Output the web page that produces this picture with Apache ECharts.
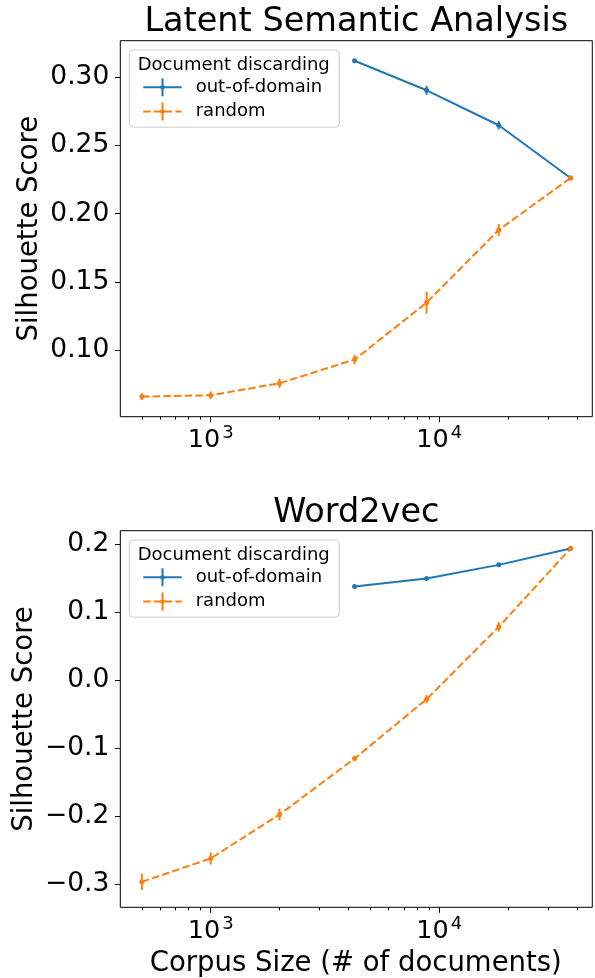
<!DOCTYPE html>
<html><head><meta charset="utf-8">
<script src="https://cdn.jsdelivr.net/npm/echarts@6/dist/echarts.min.js"></script>
<style>html,body{margin:0;padding:0;background:#fff}#c{width:595px;height:978px}</style>
</head><body><div id="c"></div><script>
// ---- data ----
const xRandom = [500, 1000, 2000, 4260, 8800, 18200, 37500];
const xOod = [4260, 8800, 18200, 37500];
const lsaOod = [0.3119, 0.2903, 0.2647, 0.2261];
const lsaOodErr = [0.0005, 0.0033, 0.0030, 0.0005];
const lsaRand = [0.0661, 0.0671, 0.0759, 0.0932, 0.1349, 0.1881, 0.2261];
const lsaRandErr = [0.0024, 0.0028, 0.0034, 0.0034, 0.0080, 0.0043, 0.0008];
const w2vOod = [0.1379, 0.1497, 0.1697, 0.1938];
const w2vOodErr = [0.0015, 0.0015, 0.0015, 0.0015];
const w2vRand = [-0.2968, -0.2624, -0.1977, -0.1153, -0.0280, 0.0785, 0.1938];
const w2vRandErr = [0.0120, 0.0090, 0.0086, 0.0040, 0.0060, 0.0070, 0.0020];
const xMajorTicks = [1000, 10000];
const xMinorTicks = [500, 600, 700, 800, 900, 2000, 3000, 4000, 5000, 6000, 7000, 8000, 9000, 20000, 30000, 40000];
const lsaYTicks = [0.10, 0.15, 0.20, 0.25, 0.30];
const w2vYTicks = [-0.3, -0.2, -0.1, 0.0, 0.1, 0.2];
const seriesNames = ['out-of-domain', 'random'];
const titles = ['Latent Semantic Analysis', 'Word2vec'];
const legendTitle = 'Document discarding';
const yName = 'Silhouette Score';
const xName = 'Corpus Size (# of documents)';

// ---- style ----
const FONT = 'DejaVu Sans';
const BLUE = '#1f77b4', ORANGE = '#ff7f0e';
const X_MIN = 402.5, X_MAX = 46700;
const GRIDS = [
  {left: 120.3, top: 40.7, width: 472, height: 376, ymin: 0.0514, ymax: 0.3266, titleY: 22.5, nameX: 30},
  {left: 120.3, top: 530.7, width: 472, height: 376.6, ymin: -0.3343, ymax: 0.2200, titleY: 513, nameX: 25}
];

const zip2 = (a, b) => a.map((v, i) => [v, b[i]]);
const zip3 = (a, b, c) => a.map((v, i) => [v, b[i], c[i]]);

function errRender(params, api) {
  const x = api.value(0), y = api.value(1), e = api.value(2);
  const p1 = api.coord([x, y - e]);
  const p2 = api.coord([x, y + e]);
  return {type: 'line', shape: {x1: p1[0], y1: p1[1], x2: p2[0], y2: p2[1]},
          style: {stroke: api.visual('color'), lineWidth: 2}};
}

const oodIcon = 'path://M0 8H38.4V10H0Z M18.2 0H20.2V18H18.2Z M21.6 9A2.4 2.4 0 1 1 16.8 9A2.4 2.4 0 1 1 21.6 9Z';
const randIcon = 'path://M0 8H7.5V10H0Z M10.7 8H18.2V10H10.7Z M21.4 8H28.9V10H21.4Z M32.1 8H38.4V10H32.1Z M18.2 0H20.2V18H18.2Z M21.6 9A2.4 2.4 0 1 1 16.8 9A2.4 2.4 0 1 1 21.6 9Z';

const grids = [], xAxes = [], yAxes = [], legends = [], series = [], graphics = [];
const yTicksList = [lsaYTicks, w2vYTicks];
const yFmt = [v => v.toFixed(2), v => (v < -1e-9 ? '\u2212' : '') + Math.abs(v).toFixed(1)];
const dataSets = [
  {ood: lsaOod, oodErr: lsaOodErr, rand: lsaRand, randErr: lsaRandErr},
  {ood: w2vOod, oodErr: w2vOodErr, rand: w2vRand, randErr: w2vRandErr}
];

GRIDS.forEach((g, gi) => {
  grids.push({left: g.left, top: g.top, width: g.width, height: g.height, show: true,
              borderColor: '#000', borderWidth: 1, backgroundColor: 'transparent',
              containLabel: false, outerBoundsMode: 'none'});
  xAxes.push({
    type: 'log', logBase: 10, gridIndex: gi, min: X_MIN, max: X_MAX, position: 'bottom',
    axisLine: {show: false, onZero: false}, splitLine: {show: false}, minorTick: {show: false},
    axisTick: {show: true, length: 5.5, customValues: xMajorTicks, lineStyle: {color: '#000', width: 1}},
    axisLabel: {
      customValues: xMajorTicks, margin: 8, color: '#000',
      formatter: v => '{b|10}{s|' + Math.round(Math.log10(v)) + '}',
      rich: {
        b: {fontFamily: FONT, fontSize: 25.5, color: '#000', verticalAlign: 'bottom'},
        s: {fontFamily: FONT, fontSize: 18, color: '#000', verticalAlign: 'bottom', padding: [0, 0, 11, 2]}
      }
    }
  });
  xAxes.push({
    type: 'log', logBase: 10, gridIndex: gi, min: X_MIN, max: X_MAX, position: 'bottom',
    axisLine: {show: false, onZero: false}, splitLine: {show: false}, axisLabel: {show: false},
    axisTick: {show: true, length: 3, customValues: xMinorTicks, lineStyle: {color: '#000', width: 1}}
  });
  yAxes.push({
    type: 'value', gridIndex: gi, min: g.ymin, max: g.ymax, position: 'left',
    axisLine: {show: false, onZero: false}, splitLine: {show: false},
    axisTick: {show: true, length: 5.3, customValues: yTicksList[gi], lineStyle: {color: '#000', width: 1}},
    axisLabel: {customValues: yTicksList[gi], margin: 11, color: '#000', fontFamily: FONT, fontSize: 26.5,
                formatter: yFmt[gi]}
  });
  const lt = g.top + 9.3;
  legends.push({
    orient: 'vertical', left: 129.3, top: lt, padding: [28.3, 17, 6.6, 14],
    itemWidth: 38.4, itemHeight: 18, itemGap: 6.3, selectedMode: false,
    backgroundColor: 'rgba(255,255,255,0.8)', borderColor: '#cccccc', borderWidth: 1, borderRadius: 4,
    textStyle: {fontFamily: FONT, fontSize: 18, color: '#000', padding: [0, 0, 0, 9]},
    data: [{name: seriesNames[0], icon: oodIcon}, {name: seriesNames[1], icon: randIcon}]
  });
  const d = dataSets[gi];
  const xi = gi * 2;
  series.push({type: 'custom', xAxisIndex: xi, yAxisIndex: gi, renderItem: errRender,
               itemStyle: {color: BLUE}, encode: {x: 0, y: 1}, data: zip3(xOod, d.ood, d.oodErr), silent: true});
  series.push({type: 'line', name: seriesNames[0], xAxisIndex: xi, yAxisIndex: gi,
               data: zip2(xOod, d.ood), symbol: 'circle', symbolSize: 5, showSymbol: true,
               lineStyle: {color: BLUE, width: 2}, itemStyle: {color: BLUE}});
  series.push({type: 'custom', xAxisIndex: xi, yAxisIndex: gi, renderItem: errRender,
               itemStyle: {color: ORANGE}, encode: {x: 0, y: 1}, data: zip3(xRandom, d.rand, d.randErr), silent: true});
  series.push({type: 'line', name: seriesNames[1], xAxisIndex: xi, yAxisIndex: gi,
               data: zip2(xRandom, d.rand), symbol: 'circle', symbolSize: 5, showSymbol: true,
               lineStyle: {color: ORANGE, width: 2, type: [7.5, 3.2]}, itemStyle: {color: ORANGE}});
  // titles and labels
  graphics.push({type: 'text', x: g.left + g.width / 2, y: g.titleY, z: 10,
                 style: {text: titles[gi], font: '33.5px "' + FONT + '"', fill: '#000', align: 'center', verticalAlign: 'middle'}});
  graphics.push({type: 'text', x: 137.7, y: lt + 15.5, z: 10,
                 style: {text: legendTitle, font: '18px "' + FONT + '"', fill: '#000', align: 'left', verticalAlign: 'middle'}});
  graphics.push({type: 'text', x: g.nameX, y: g.top + g.height / 2, rotation: Math.PI / 2, z: 10,
                 style: {text: yName, font: '27.5px "' + FONT + '"', fill: '#000', align: 'center', verticalAlign: 'middle'}});
});
graphics.push({type: 'text', x: 355.8, y: 963.5, z: 10,
               style: {text: xName, font: '27.5px "' + FONT + '"', fill: '#000', align: 'center', verticalAlign: 'middle'}});

const chart = echarts.init(document.getElementById('c'), null, {renderer: 'canvas'});
chart.setOption({
  animation: false,
  backgroundColor: '#fff',
  textStyle: {fontFamily: FONT},
  grid: grids, xAxis: xAxes, yAxis: yAxes, legend: legends, series: series, graphic: graphics
});
</script></body></html>
